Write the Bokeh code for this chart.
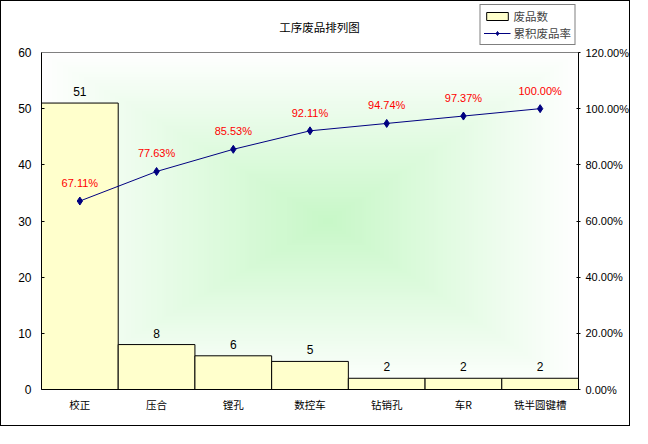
import numpy as np
from bokeh.plotting import figure
from bokeh.models import (Range1d, LinearAxis, FixedTicker, Span, Label,
                          NumeralTickFormatter, Legend, LegendItem)
from bokeh.core.properties import value
from bokeh.embed import file_html
from bokeh.resources import INLINE

# ---- data ----
categories = ["校正", "压合", "镗孔", "数控车", "钻销孔", "车R", "铣半圆键槽"]
defects = [51, 8, 6, 5, 2, 2, 2]
cum_pct = [0.6711, 0.7763, 0.8553, 0.9211, 0.9474, 0.9737, 1.0]
bar_labels = ["51", "8", "6", "5", "2", "2", "2"]
pct_labels = ["67.11%", "77.63%", "85.53%", "92.11%", "94.74%", "97.37%", "100.00%"]
left_ticks = [0, 10, 20, 30, 40, 50, 60]
right_ticks = [0.0, 0.2, 0.4, 0.6, 0.8, 1.0, 1.2]
left_max, right_max = 60, 1.2
title_text = "工序废品排列图"
series_names = ["废品数", "累积废品率"]

NUM_FONT = "Liberation Sans"
CJK_FONT = "Noto Sans CJK SC"

# ---- layout (pixels) ----
W, H = 630, 426
LEFT, RIGHT, BOTTOM = 40, 53, 38
PLOT_TOP = 51                      # plot area top, below title/legend band
FRAME_H = H - BOTTOM               # frame reaches canvas top
PLOT_H = FRAME_H - PLOT_TOP
FRAME_W = W - LEFT - RIGHT
ext = FRAME_H / PLOT_H             # extend ranges so that 0..max fills plot area

n = len(categories)
xs = [i + 0.5 for i in range(n)]   # category slot centres

p = figure(width=W, height=H, title_location=None,
           x_range=Range1d(0, n), y_range=Range1d(0, left_max * ext),
           output_backend="svg", toolbar_location=None,
           min_border_left=LEFT, min_border_right=RIGHT,
           min_border_top=0, min_border_bottom=BOTTOM)
p.styles = {"border": "1px solid black"}
p.extra_y_ranges = {"pct": Range1d(0, right_max * ext)}

# ---- gradient background (styling) ----
N = 240
u = np.linspace(-1, 1, N)
U, V = np.meshgrid(u, u)
cx = 0.07
du = np.where(U >= cx, (U - cx) / (1 - cx), (cx - U) / (1 + cx))
d = np.clip(np.maximum(du, np.abs(V)), 0, 1)
green = np.array([200, 248, 200])
white = np.array([255, 255, 255])
img = np.empty((N, N), dtype=np.uint32)
view = img.view(dtype=np.uint8).reshape((N, N, 4))
for k in range(3):
    view[:, :, k] = (green[k] + (white[k] - green[k]) * d).astype(np.uint8)
view[:, :, 3] = 255
p.image_rgba(image=[img], x=0, y=0, dw=n, dh=left_max)

# top edge of plot area
p.add_layout(Span(location=left_max, dimension="width",
                  line_color="#808080", line_width=1))

# ---- bars ----
bars = p.vbar(x=xs, top=defects, width=1.0,
              fill_color="#FFFFCC", line_color="black", line_width=1)
p.text(x=xs, y=defects, text=bar_labels,
       text_align="center", text_baseline="bottom", y_offset=-7,
       text_font=value(NUM_FONT), text_font_size="12px", text_color="black")

# ---- cumulative line ----
line = p.line(x=xs, y=cum_pct, y_range_name="pct",
              line_color="#000080", line_width=1)
pts = p.scatter(x=xs, y=cum_pct, y_range_name="pct", marker="diamond",
                size=8, fill_color="#000080", line_color="#000080")
p.text(x=xs, y=cum_pct, y_range_name="pct", text=pct_labels,
       text_align="center", text_baseline="bottom", y_offset=-12,
       text_font=value(NUM_FONT), text_font_size="11px", text_color="#FF0000")

# ---- title (inside the extended frame band) ----
title_px_x = 318 - LEFT            # canvas x of title centre, relative to frame
title_px_y = 25                    # canvas y of title centre
p.add_layout(Label(x=title_px_x * n / FRAME_W,
                   y=(FRAME_H - title_px_y) * left_max * ext / FRAME_H,
                   text=title_text, text_align="center", text_baseline="middle",
                   text_font=CJK_FONT, text_font_size="11.5px", text_color="black"))

# ---- axes ----
p.xgrid.visible = False
p.ygrid.visible = False
p.outline_line_color = None
p.background_fill_color = "white"
p.border_fill_color = "white"

xa = p.xaxis[0]
xa.ticker = FixedTicker(ticks=xs)
xa.major_label_overrides = {x: c for x, c in zip(xs, categories)}
xa.major_tick_in = 0
xa.major_tick_out = 0
xa.minor_tick_in = 0
xa.minor_tick_out = 0
xa.axis_line_color = "black"
xa.major_label_text_font = CJK_FONT
xa.major_label_text_font_size = "10.5px"
xa.major_label_text_color = "black"
xa.major_label_standoff = 7

ya = p.yaxis[0]
ya.ticker = FixedTicker(ticks=left_ticks)
ya.bounds = (0, left_max)
ya.major_tick_in = 3
ya.major_tick_out = 0
ya.minor_tick_in = 0
ya.minor_tick_out = 0
ya.axis_line_color = "black"
ya.major_tick_line_color = "black"
ya.major_label_text_font = NUM_FONT
ya.major_label_text_font_size = "12px"
ya.major_label_text_color = "black"
ya.major_label_standoff = 10

ra = LinearAxis(y_range_name="pct", ticker=FixedTicker(ticks=right_ticks),
                formatter=NumeralTickFormatter(format="0.00%"))
ra.bounds = (0, right_max)
ra.major_tick_in = 2
ra.major_tick_out = 2
ra.minor_tick_in = 0
ra.minor_tick_out = 0
ra.axis_line_color = "black"
ra.major_label_text_font = NUM_FONT
ra.major_label_text_font_size = "11px"
ra.major_label_text_color = "black"
ra.major_label_standoff = 5
p.add_layout(ra, "right")

# ---- legend ----
legend = Legend(items=[LegendItem(label=series_names[0], renderers=[bars]),
                       LegendItem(label=series_names[1], renderers=[line, pts])],
                location="top_right", orientation="vertical",
                label_text_font=CJK_FONT, label_text_font_size="11.5px",
                glyph_width=27, glyph_height=10, label_height=14,
                label_standoff=3, padding=3, spacing=1, margin=3,
                border_line_color="black", border_line_width=1,
                background_fill_color="white", background_fill_alpha=1)
p.add_layout(legend)

open("out.html", "w").write(file_html(p, INLINE))
